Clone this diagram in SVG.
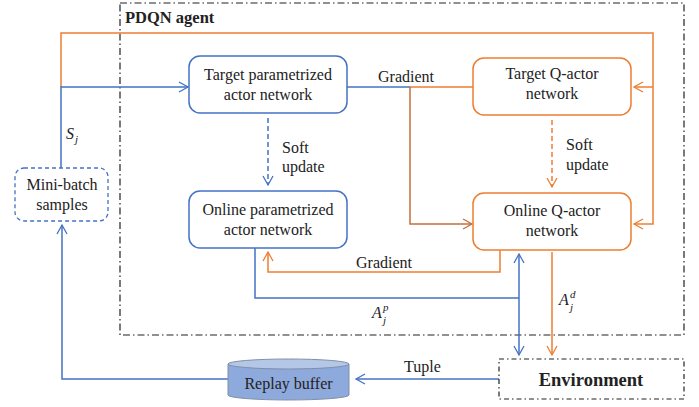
<svg xmlns="http://www.w3.org/2000/svg" width="699" height="407" viewBox="0 0 699 407">
<style>
text{font-family:"Liberation Serif","DejaVu Serif","Times New Roman",serif;font-size:16px;fill:#222;}
.c{text-anchor:middle;}
.b{stroke:#4472C4;fill:none;stroke-width:1.5;}
.o{stroke:#ED7D31;fill:none;stroke-width:1.5;}
.o2{stroke:#C5703A;fill:none;stroke-width:1.5;}
.nb{fill:#fff;stroke:#4472C4;stroke-width:1.5;}
.no{fill:#fff;stroke:#ED7D31;stroke-width:1.5;}
.it{font-style:italic;}
.s{font-size:11px;}
</style>
<defs>
<marker id="ab" markerWidth="12" markerHeight="12" refX="10" refY="6" orient="auto-start-reverse" markerUnits="userSpaceOnUse"><path d="M1,1 L10,6 L1,11" fill="none" stroke="#4472C4" stroke-width="1.3"/></marker>
<marker id="ao" markerWidth="12" markerHeight="12" refX="10" refY="6" orient="auto" markerUnits="userSpaceOnUse"><path d="M1,1 L10,6 L1,11" fill="none" stroke="#ED7D31" stroke-width="1.3"/></marker>
<marker id="ao2" markerWidth="12" markerHeight="12" refX="10" refY="6" orient="auto" markerUnits="userSpaceOnUse"><path d="M1,1 L10,6 L1,11" fill="none" stroke="#C5703A" stroke-width="1.3"/></marker>
</defs>
<g id="agent-frame">
<rect x="120" y="3" width="564" height="332" fill="none" stroke="#222" stroke-width="1.2" stroke-dasharray="7,3,1.5,3"/>
<text x="125" y="23" style="font-weight:bold;font-size:16.5px">PDQN agent</text>
</g>
<g id="connectors">
<polyline class="o" points="61,87 61,33 653,33 653,224 634,224" marker-end="url(#ao)"/>
<line class="o" x1="653" y1="87" x2="634" y2="87" marker-end="url(#ao)"/>
<polyline class="b" points="61,168 61,87 188,87" marker-end="url(#ab)"/>
<text x="66" y="139" class="it">S</text><text x="75" y="143" class="it s">j</text>
<line class="b" x1="268" y1="118" x2="268" y2="185" stroke-dasharray="5,3" marker-end="url(#ab)"/>
<text x="282" y="153">Soft</text>
<text x="282" y="172">update</text>
<line class="o" x1="552" y1="120" x2="552" y2="187" stroke-dasharray="5,3" marker-end="url(#ao)"/>
<text x="566" y="150">Soft</text>
<text x="566" y="170">update</text>
<line class="b" x1="347" y1="87" x2="410" y2="87"/>
<line class="o" x1="410" y1="87" x2="473" y2="87"/>
<text x="378" y="82">Gradient</text>
<polyline class="o2" points="410,87 410,224 472,224" marker-end="url(#ao2)"/>
<polyline class="o" points="500,250 500,272 268,272 268,252" marker-end="url(#ao)"/>
<text x="356" y="268">Gradient</text>
<polyline class="b" points="255,248 255,298 519,298"/>
<line class="b" x1="519" y1="254" x2="519" y2="355" marker-start="url(#ab)" marker-end="url(#ab)"/>
<text x="372" y="318" class="it">A</text><text x="383" y="311" class="it s">p</text><text x="383" y="324" class="it s">j</text>
<line class="o" x1="552" y1="252" x2="552" y2="355" marker-end="url(#ao)"/>
<text x="559" y="305" class="it">A</text><text x="570" y="298" class="it s">d</text><text x="570" y="311" class="it s">j</text>
<line class="b" x1="499" y1="379" x2="356" y2="379" marker-end="url(#ab)"/>
<text x="404" y="372">Tuple</text>
<polyline class="b" points="228,379 62,379 62,225" marker-end="url(#ab)"/>
</g>
<g id="target-actor">
<rect class="nb" x="189" y="56" width="158" height="57" rx="11"/>
<text class="c" x="268" y="80">Target parametrized</text>
<text class="c" x="268" y="100">actor network</text>
</g>
<g id="online-actor">
<rect class="nb" x="189" y="191" width="158" height="57" rx="11"/>
<text class="c" x="268" y="215">Online parametrized</text>
<text class="c" x="268" y="235">actor network</text>
</g>
<g id="target-q">
<rect class="no" x="473" y="58" width="158" height="57" rx="11"/>
<text class="c" x="552" y="79">Target Q-actor</text>
<text class="c" x="552" y="99">network</text>
</g>
<g id="online-q">
<rect class="no" x="473" y="193" width="158" height="57" rx="11"/>
<text class="c" x="552" y="216">Online Q-actor</text>
<text class="c" x="552" y="236">network</text>
</g>
<g id="mini-batch">
<rect x="15" y="168" width="93" height="53" rx="9" fill="#fff" stroke="#4472C4" stroke-width="1.3" stroke-dasharray="4,3"/>
<text class="c" x="62" y="190">Mini-batch</text>
<text class="c" x="62" y="210">samples</text>
</g>
<g id="replay-buffer">
<path d="M228,364 L228,395 A60.5,5 0 0 0 349,395 L349,364 Z" fill="#8EA9DB" stroke="#7F8FA6" stroke-width="1"/>
<ellipse cx="288.5" cy="364" rx="60.5" ry="5" fill="#B4C7E7" stroke="#7F8FA6" stroke-width="1"/>
<text class="c" x="288.5" y="389">Replay buffer</text>
</g>
<g id="environment">
<rect x="499" y="359" width="185" height="40" fill="#fff" stroke="#222" stroke-width="1.2" stroke-dasharray="5,3,1.5,3"/>
<text class="c" x="591" y="386" style="font-weight:bold;font-size:18.5px">Environment</text>
</g>
</svg>
